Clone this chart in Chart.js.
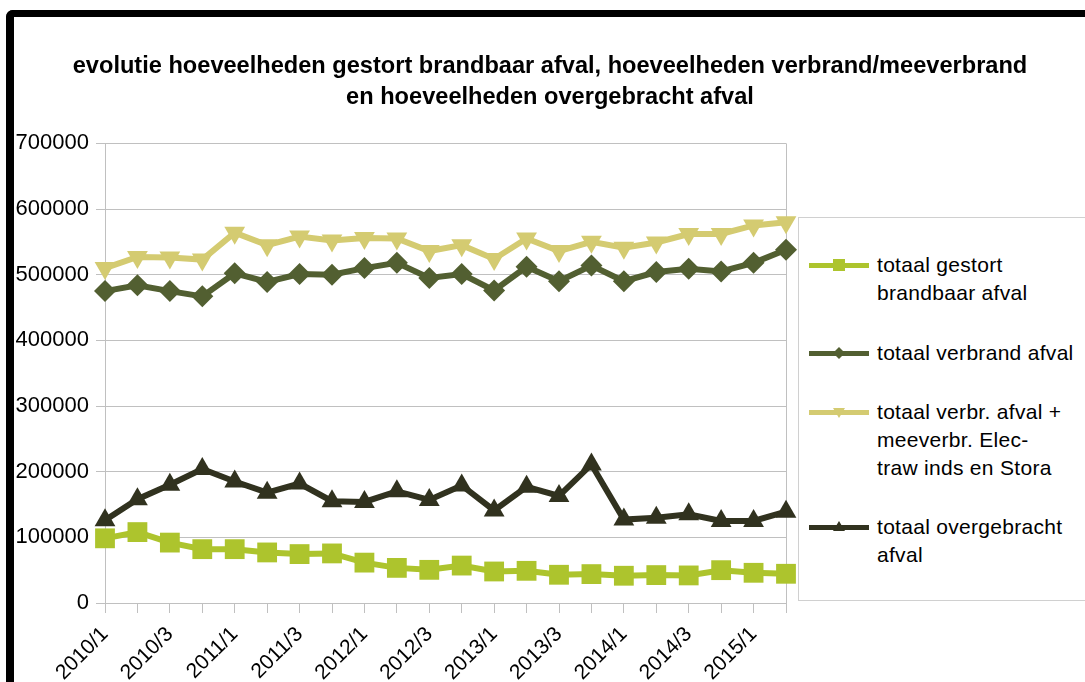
<!DOCTYPE html>
<html>
<head>
<meta charset="utf-8">
<script src="https://cdn.jsdelivr.net/npm/chart.js@4.4.1/dist/chart.umd.min.js"></script>
<style>
html, body { margin: 0; padding: 0; background: #fff; overflow: hidden; }
#wrap { position: relative; width: 1085px; height: 682px; overflow: hidden; }
#frame { position: absolute; left: 6px; top: 10px; width: 1200px; height: 800px;
  border-top: 7px solid #000; border-left: 8px solid #000; border-top-left-radius: 7px; }
#graph1 { position: absolute; left: 0; top: 0; }
#legend { position: absolute; left: 798px; top: 217px; width: 320px; height: 382px;
  border: 1px solid #d0d0d0; font-family: "Liberation Sans", Arial, sans-serif;
  font-size: 21px; letter-spacing: 0.3px; color: #000; background: #fff; }
.item { position: absolute; left: 78px; line-height: 28px; white-space: nowrap; }
.item svg { position: absolute; left: -68px; top: 5px; }
</style>
</head>
<body>
<div id="wrap">
  <div id="frame"></div>
  <canvas id="graph1" width="1085" height="682"></canvas>
  <div id="legend"></div>
</div>
<script>
// kwartalen 2010/1 - 2015/2
const quarters = ['2010/1', '2010/2', '2010/3', '2010/4', '2011/1', '2011/2', '2011/3', '2011/4',
    '2012/1', '2012/2', '2012/3', '2012/4', '2013/1', '2013/2', '2013/3', '2013/4',
    '2014/1', '2014/2', '2014/3', '2014/4', '2015/1', '2015/2'];

const gestort = [98500, 108000, 92000, 82000, 82000, 77000, 74500, 75500, 61500, 53500, 50500, 57000,
    48000, 49000, 43000, 44000, 41500, 42500, 42000, 50000, 46000, 44500];
const verbrand = [475000, 484000, 475000, 467000, 502000, 489000, 501000, 500000, 510000, 518000, 495000, 501000,
    476000, 512000, 490000, 514000, 490000, 504000, 509000, 505000, 518000, 538000];
const verbrandMee = [510000, 527000, 526000, 523000, 564000, 545000, 558000, 552000, 556000, 555000, 536000, 545000,
    524000, 555000, 536000, 550000, 541000, 549000, 562000, 562000, 575000, 580000];
const overgebracht = [126000, 158000, 180000, 204000, 185000, 168000, 182000, 155000, 154000, 170000, 157000, 179000,
    141000, 177000, 163000, 211000, 127000, 130000, 135000, 125000, 125000, 139000];

const seriesNames = ['totaal gestort\nbrandbaar afval', 'totaal verbrand afval',
    'totaal verbr. afval +\nmeeverbr. Elec-\ntraw inds en Stora', 'totaal overgebracht\nafval'];
const seriesColors = ['#adc42d', '#525f31', '#d4cb71', '#31321f'];

const chart1 = document.getElementById('graph1').getContext('2d');
const myChart1 = new Chart(chart1, {
    type: 'line',
    data: {
        labels: quarters,
        datasets: [{
            label: seriesNames[0],
            data: gestort,
            borderColor: seriesColors[0],
            backgroundColor: seriesColors[0],
            borderWidth: 6,
            pointStyle: 'rect',
            pointRadius: 14,
            pointBorderWidth: 0,
            clip: false
        }, {
            label: seriesNames[1],
            data: verbrand,
            borderColor: seriesColors[1],
            backgroundColor: seriesColors[1],
            borderWidth: 6,
            pointStyle: 'rectRot',
            pointRadius: 11,
            pointBorderWidth: 0,
            clip: false
        }, {
            label: seriesNames[2],
            data: verbrandMee,
            borderColor: seriesColors[2],
            backgroundColor: seriesColors[2],
            borderWidth: 6,
            pointStyle: 'triangle',
            pointRotation: 180,
            pointRadius: 12,
            pointBorderWidth: 0,
            clip: false
        }, {
            label: seriesNames[3],
            data: overgebracht,
            borderColor: seriesColors[3],
            backgroundColor: seriesColors[3],
            borderWidth: 6,
            pointStyle: 'triangle',
            pointRadius: 12,
            pointBorderWidth: 0,
            clip: false
        }]
    },
    options: {
        responsive: false,
        animation: false,
        layout: {
            padding: { left: 15, right: 0, top: 40, bottom: 0 }
        },
        scales: {
            x: {
                grid: {
                    color: (ctx) => ctx.index === quarters.length - 1 ? '#c0c0c0' : 'rgba(0,0,0,0)',
                    tickColor: '#c0c0c0',
                    tickLength: 10
                },
                border: { color: '#c0c0c0' },
                ticks: {
                    autoSkip: false,
                    maxRotation: 45,
                    minRotation: 45,
                    padding: 9,
                    color: '#000000',
                    font: { family: '"Liberation Sans", Arial', size: 21 },
                    callback: function (value, index) {
                        return index % 2 === 0 ? quarters[index] : '';
                    }
                },
                afterFit: (axis) => { axis.height = 79; }
            },
            y: {
                min: 0,
                max: 700000,
                grid: {
                    color: '#c0c0c0',
                    tickLength: 9
                },
                border: { color: '#c0c0c0' },
                ticks: {
                    stepSize: 100000,
                    padding: 7,
                    color: '#000000',
                    font: { family: '"Liberation Sans", Arial', size: 22 },
                    callback: (value) => String(value)
                },
                afterFit: (axis) => { axis.width = 90; }
            },
            // lege as rechts: houdt ruimte vrij voor de legenda
            ruimte: {
                type: 'linear',
                position: 'right',
                display: true,
                grid: { display: false },
                border: { display: false },
                ticks: { display: false },
                afterFit: (axis) => { axis.width = 299; }
            }
        },
        plugins: {
            title: {
                display: true,
                text: ['evolutie hoeveelheden gestort brandbaar afval, hoeveelheden verbrand/meeverbrand',
                    'en hoeveelheden overgebracht afval'],
                color: '#000000',
                font: { family: '"Liberation Sans", Arial', size: 23.6, weight: 'bold', lineHeight: 1.3 },
                padding: { top: 11, bottom: 31 }
            },
            legend: { display: false },
            tooltip: { enabled: false }
        }
    }
});

// legenda in html (meerregelige labels)
const legendTops = [33, 121, 180, 295];
const markers = [
    '<rect x="24" y="3" width="12" height="12"/>',
    '<polygon points="30,3 36,9 30,15 24,9"/>',
    '<polygon points="24,5 36,5 30,15"/>',
    '<polygon points="30,3 36,13 24,13"/>'
];
const legend = document.getElementById('legend');
seriesNames.forEach((name, i) => {
    const div = document.createElement('div');
    div.className = 'item';
    div.style.top = legendTops[i] + 'px';
    div.innerHTML = '<svg width="60" height="18"><g fill="' + seriesColors[i] + '">' +
        '<rect x="0" y="7" width="60" height="5"/>' + markers[i] + '</g></svg>' +
        name.split('\n').join('<br>');
    legend.appendChild(div);
});
</script>
</body>
</html>
